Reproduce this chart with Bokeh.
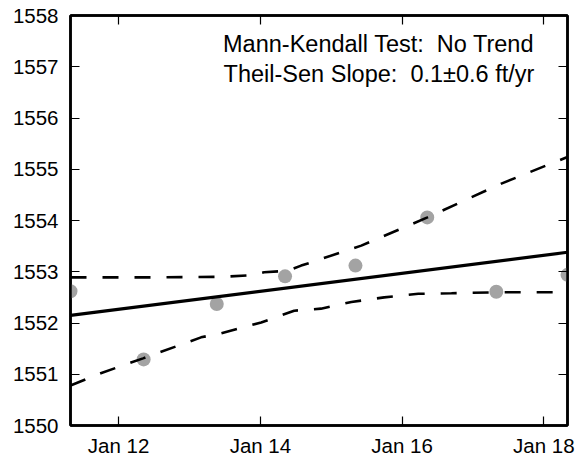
import pandas as pd
from bokeh.plotting import figure
from bokeh.models import Label, LinearAxis, DatetimeAxis, FixedTicker, DatetimeTickFormatter, Range1d
from bokeh.embed import file_html
from bokeh.resources import INLINE

# ---- data ----
sample_dates = ["2011-04-28", "2012-05-09", "2013-05-21", "2014-05-08",
                "2015-05-06", "2016-05-10", "2017-05-01", "2018-05-03"]
sample_values = [1552.62, 1551.29, 1552.37, 1552.91, 1553.12, 1554.06, 1552.61, 1552.94]

trend_dates = ["2011-04-28", "2018-05-03"]
trend_values = [1552.15, 1553.38]

upper_dates = ["2011-04-28", "2012-06-17", "2013-06-13", "2013-11-14", "2014-01-20",
               "2014-05-24", "2014-07-30", "2014-09-09", "2015-06-05", "2016-05-11",
               "2017-05-27", "2018-05-03"]
upper_values = [1552.89, 1552.89, 1552.90, 1552.93, 1552.99, 1553.02, 1553.12,
                1553.17, 1553.51, 1554.06, 1554.72, 1555.24]

lower_dates = ["2011-04-28", "2011-10-01", "2012-05-06", "2013-03-01", "2013-06-13",
               "2014-01-05", "2014-06-24", "2014-11-09", "2015-04-15", "2015-10-01",
               "2016-03-25", "2016-09-12", "2017-05-01", "2018-05-03"]
lower_values = [1550.78, 1551.02, 1551.31, 1551.72, 1551.80, 1552.01, 1552.24,
                1552.28, 1552.41, 1552.50, 1552.57, 1552.58, 1552.60, 1552.60]

x_tick_dates = ["2012-01-01", "2014-01-01", "2016-01-01", "2018-01-01"]
y_ticks = [1550, 1551, 1552, 1553, 1554, 1555, 1556, 1557, 1558]

annotation_lines = ["Mann-Kendall Test:\u00a0 No Trend", "Theil-Sen Slope:\u00a0 0.1\u00b10.6 ft/yr"]

# ---- conversions ----
def to_dt(lst):
    return pd.to_datetime(lst)

def to_ms(s):
    return pd.Timestamp(s).value / 1e6

xd = to_dt(sample_dates)
x_ticks_ms = [to_ms(d) for d in x_tick_dates]

FONT = "Liberation Sans"

p = figure(width=582, height=459, x_axis_type="datetime",
           output_backend="svg", toolbar_location=None,
           x_range=Range1d(to_ms(sample_dates[0]), to_ms(sample_dates[-1])),
           y_range=Range1d(1550, 1558),
           min_border_left=70, min_border_right=15, min_border_top=15, min_border_bottom=34)
p.xgrid.visible = False
p.ygrid.visible = False
p.outline_line_color = "black"
p.outline_line_width = 2.5
p.background_fill_color = "white"
p.border_fill_color = "white"

fmt = DatetimeTickFormatter(years="%b %y", months="%b %y", days="%b %y",
                            hours="%b %y", minutes="%b %y", seconds="%b %y",
                            milliseconds="%b %y", microseconds="%b %y", minsec="%b %y",
                            hourmin="%b %y")

def style_axis(ax, show_labels=True, standoff=10):
    ax.axis_line_color = "black"
    ax.axis_line_width = 2.5
    ax.major_tick_in = 9
    ax.major_tick_out = 0
    ax.minor_tick_in = 0
    ax.minor_tick_out = 0
    ax.major_tick_line_color = "black"
    ax.major_tick_line_width = 1.2
    ax.major_label_text_font = FONT
    if show_labels:
        ax.major_label_text_color = "black"
        ax.major_label_text_font_size = "20.5px"
        ax.major_label_standoff = standoff
    else:
        ax.major_label_text_color = None
        ax.major_label_text_font_size = "1px"
        ax.major_label_standoff = 0

xa = p.xaxis[0]
xa.ticker = FixedTicker(ticks=x_ticks_ms)
xa.formatter = fmt
style_axis(xa, True, 8)

ya = p.yaxis[0]
ya.ticker = FixedTicker(ticks=y_ticks)
style_axis(ya, True, 12)

top = DatetimeAxis(ticker=FixedTicker(ticks=x_ticks_ms), formatter=fmt)
style_axis(top, False)
p.add_layout(top, "above")

right = LinearAxis(ticker=FixedTicker(ticks=y_ticks))
style_axis(right, False)
p.add_layout(right, "right")

# ---- glyphs ----
p.scatter(xd, sample_values, size=14, color="#a3a3a3", line_color=None)
p.line(to_dt(trend_dates), trend_values, line_color="black", line_width=3.2)
p.line(to_dt(upper_dates), upper_values, line_color="black", line_width=2.6, line_dash="16 16")
p.line(to_dt(lower_dates), lower_values, line_color="black", line_width=2.6, line_dash="16 16")

label_x = to_ms("2017-11-13")
p.add_layout(Label(x=label_x, y=1557.44, text=annotation_lines[0], text_align="right",
                   text_baseline="alphabetic", text_font=FONT, text_font_size="23.5px",
                   text_color="black"))
p.add_layout(Label(x=label_x, y=1556.86, text=annotation_lines[1], text_align="right",
                   text_baseline="alphabetic", text_font=FONT, text_font_size="23.5px",
                   text_color="black"))

open("out.html", "w").write(file_html(p, INLINE))
